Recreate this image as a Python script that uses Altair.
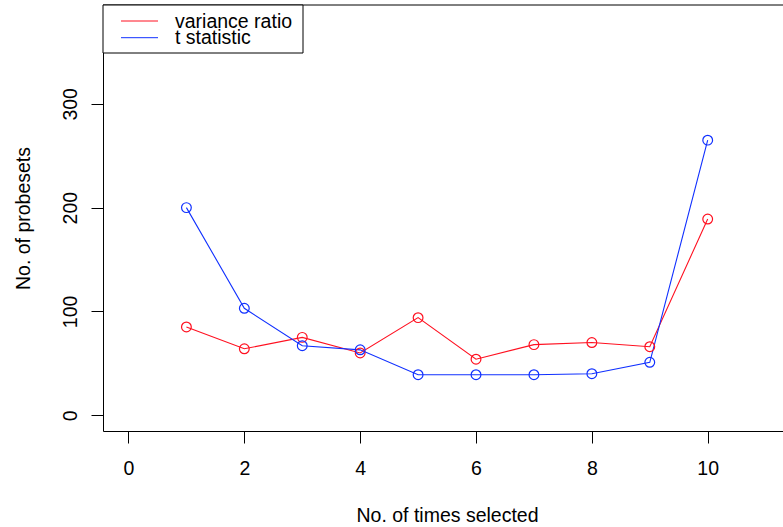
import altair as alt
import pandas as pd

# ---- data ----
x_vals = [1, 2, 3, 4, 5, 6, 7, 8, 9, 10]
series_names = ["variance ratio", "t statistic"]
variance_ratio = [85, 64, 75, 60, 94, 54, 68, 70, 66, 189]
t_statistic = [200, 103, 67, 63, 39, 39, 39, 40, 51, 265]
series_colors = ["#ff1020", "#1030ff"]
x_ticks = [0, 2, 4, 6, 8, 10]
y_ticks = [0, 100, 200, 300]

rows = []
for name, vals in zip(series_names, [variance_ratio, t_statistic]):
    for xv, v in zip(x_vals, vals):
        rows.append({"x": xv, "n": v, "series": name})
df = pd.DataFrame(rows)

W, H = 680, 426
FONT = "Liberation Sans"
FS = 19.5

xscale = alt.Scale(domain=[-0.44, 11.30], nice=False, zero=False)
yscale = alt.Scale(domain=[-15.2, 395.2], nice=False, zero=False)
color = alt.Color("series:N", scale=alt.Scale(domain=series_names, range=series_colors),
                  legend=None, sort=series_names)

x_axis = alt.Axis(values=x_ticks, format="d", title="No. of times selected", grid=False,
                  labelFont=FONT, labelFontSize=FS, labelColor="black",
                  labelBaseline="alphabetic", labelPadding=31, labelFlush=False, labelOverlap=False,
                  tickSize=12, tickColor="black", tickWidth=1,
                  domainColor="black", domainWidth=1,
                  titleFont=FONT, titleFontSize=FS, titleColor="black", titleFontWeight="normal",
                  titleBaseline="alphabetic", titleAlign="center", titleX=344, titleY=90)
y_axis = alt.Axis(values=y_ticks, format="d", title="No. of probesets", grid=False,
                  labelFont=FONT, labelFontSize=FS, labelColor="black",
                  labelAngle=270, labelAlign="center", labelBaseline="alphabetic",
                  labelPadding=15, labelOverlap=False, labelFlush=False,
                  tickSize=12, tickColor="black", tickWidth=1,
                  domainColor="black", domainWidth=1,
                  titleFont=FONT, titleFontSize=FS, titleColor="black", titleFontWeight="normal",
                  titleAngle=270, titleBaseline="alphabetic", titleAlign="center",
                  titleX=-74, titleY=H / 2)

base = alt.Chart(df).encode(
    x=alt.X("x:Q", scale=xscale, axis=x_axis),
    y=alt.Y("n:Q", scale=yscale, axis=y_axis),
    color=color,
)
lines = base.mark_line(strokeWidth=1.1)
points = base.mark_point(filled=False, size=95, strokeWidth=1.2, opacity=1)

one = pd.DataFrame({"a": [0]})
top_border = alt.Chart(one).mark_rule(color="black", strokeWidth=1).encode(
    x=alt.value(0), x2=alt.value(W + 20), y=alt.value(0))

legend_box = alt.Chart(one).mark_rect(fill="white", stroke="black", strokeWidth=1).encode(
    x=alt.value(0), x2=alt.value(200), y=alt.value(0), y2=alt.value(48))

legend_layers = [legend_box]
line_ys = [16, 32.7]
text_ys = [23, 38.5]
for name, col, ly, ty in zip(series_names, series_colors, line_ys, text_ys):
    d = pd.DataFrame({"name": [name]})
    legend_layers.append(alt.Chart(d).mark_rule(color=col, strokeWidth=1).encode(
        x=alt.value(18), x2=alt.value(55), y=alt.value(ly)))
    legend_layers.append(alt.Chart(d).mark_text(align="left", baseline="alphabetic",
                                                font=FONT, fontSize=FS, color="black").encode(
        x=alt.value(72), y=alt.value(ty), text="name:N"))

chart = alt.layer(lines, points, top_border, *legend_layers).properties(
    width=W, height=H,
    autosize=alt.AutoSizeParams(type="none"),
    padding={"left": 103, "top": 5, "right": 0, "bottom": 96},
    background="white",
).configure_view(stroke=None)

chart.save("out.html", embed_options={"renderer": "svg", "actions": False})
